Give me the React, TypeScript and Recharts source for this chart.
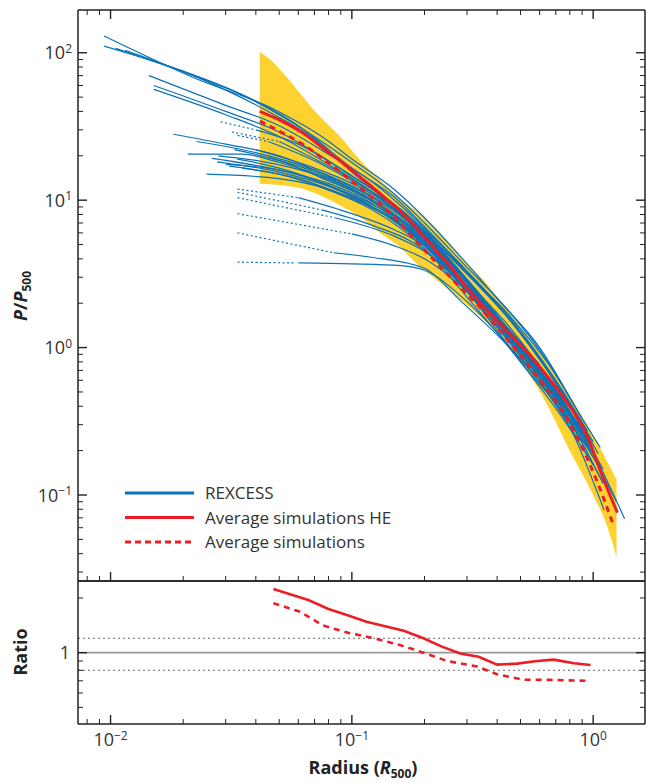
import React from 'react';
import { ComposedChart, Line, Area, XAxis, YAxis, ReferenceLine, Legend } from 'recharts';

type Pt = [number, number];

// axis ticks (log scales, minor ticks included)
const xTicks = [0.008, 0.009, 0.01, 0.02, 0.03, 0.04, 0.05, 0.06, 0.07, 0.08, 0.09, 0.1, 0.2, 0.3, 0.4, 0.5, 0.6, 0.7, 0.8, 0.9, 1];
const pTicks = [0.03, 0.04, 0.05, 0.06, 0.07, 0.08, 0.09, 0.1, 0.2, 0.3, 0.4, 0.5, 0.6, 0.7, 0.8, 0.9, 1, 2, 3, 4, 5, 6, 7, 8, 9, 10, 20, 30, 40, 50, 60, 70, 80, 90, 100];
const ratioTicks = [0.5, 0.6, 0.7, 0.8, 0.9, 1, 2];

// simulation dispersion band
const bandR = [0.0415, 0.0458, 0.052, 0.061, 0.0716, 0.0894, 0.108, 0.131, 0.154, 0.186, 0.232, 0.273, 0.351, 0.44, 0.5, 0.62, 0.8, 1.0, 1.14, 1.25];
const bandLo = [12.9, 12.8, 12.6, 12.1, 11.0, 9.2, 7.7, 6.0, 5.0, 3.7, 2.75, 2.2, 1.55, 1.05, 0.8, 0.46, 0.2, 0.1, 0.062, 0.038];
const bandHi = [101, 90, 72.5, 53, 38.8, 27, 18.7, 13.7, 10.6, 8.4, 6.0, 4.36, 2.88, 1.8, 1.38, 0.87, 0.47, 0.255, 0.17, 0.127];

// average simulated profiles
const simHE: Pt[] = [[0.0415, 40], [0.052, 34], [0.063, 28.4], [0.076, 22.5], [0.092, 17.8], [0.112, 13.7], [0.135, 10.6], [0.164, 8.0], [0.2, 5.6], [0.25, 3.7], [0.3, 2.55], [0.385, 1.62], [0.533, 0.93], [0.731, 0.49], [0.946, 0.25], [1.1, 0.13], [1.26, 0.076]];
const simAll: Pt[] = [[0.0416, 34.4], [0.052, 28.4], [0.063, 23.8], [0.079, 18.2], [0.098, 13.8], [0.115, 11.2], [0.144, 8.2], [0.186, 5.2], [0.256, 3.0], [0.352, 1.75], [0.454, 1.07], [0.624, 0.56], [0.805, 0.3], [1.006, 0.14], [1.22, 0.061]];

// ratio panel
const ratioHE: Pt[] = [[0.0473, 2.24], [0.066, 1.95], [0.08, 1.74], [0.0953, 1.61], [0.115, 1.48], [0.14, 1.39], [0.164, 1.32], [0.198, 1.2], [0.236, 1.08], [0.281, 0.99], [0.335, 0.95], [0.4, 0.86], [0.484, 0.87], [0.586, 0.9], [0.687, 0.915], [0.832, 0.875], [0.975, 0.856]];
const ratioAll: Pt[] = [[0.0473, 1.87], [0.061, 1.68], [0.076, 1.41], [0.098, 1.28], [0.127, 1.19], [0.159, 1.1], [0.198, 1.0], [0.248, 0.9], [0.33, 0.84], [0.4, 0.76], [0.515, 0.71], [0.666, 0.708], [0.929, 0.7]];

// REXCESS cluster profiles
const rexA1: Pt[] = [[0.0094, 130], [0.022, 68], [0.048, 41], [0.075, 27], [0.1, 19], [0.15, 11.8], [0.2, 7.6], [0.3, 3.7], [0.4, 2.15], [0.6, 1.0], [0.84, 0.4]];
const rexA2: Pt[] = [[0.0094, 111], [0.02, 75], [0.035, 52], [0.05, 38], [0.075, 25], [0.1, 18], [0.15, 11], [0.2, 7.0], [0.3, 3.5], [0.45, 1.75], [0.65, 0.8], [0.9, 0.33], [1.07, 0.21]];
const rexA3: Pt[] = [[0.0105, 107], [0.022, 70], [0.04, 47], [0.06, 32], [0.1, 16.5], [0.15, 10.5], [0.2, 6.6], [0.3, 3.2], [0.45, 1.55], [0.7, 0.58], [1.0, 0.23]];
const rexA4: Pt[] = [[0.0115, 104], [0.025, 64], [0.045, 40], [0.07, 26], [0.1, 15.5], [0.2, 6.2], [0.3, 2.9], [0.5, 1.05], [0.8, 0.36], [1.1, 0.15]];
const rexA5: Pt[] = [[0.0144, 70], [0.03, 44], [0.05, 32], [0.08, 20.5], [0.12, 13.5], [0.2, 6.5], [0.3, 3.3], [0.5, 1.25], [0.8, 0.4], [1.35, 0.069]];
const rexA6: Pt[] = [[0.0151, 60], [0.03, 40], [0.05, 29], [0.08, 18.5], [0.12, 12], [0.2, 6.0], [0.3, 2.8], [0.5, 1.0], [0.75, 0.42], [1.0, 0.2]];
const rexA7: Pt[] = [[0.0151, 56.5], [0.03, 38], [0.05, 27], [0.08, 17.5], [0.12, 11.5], [0.2, 5.6], [0.35, 2.1], [0.55, 0.85], [0.9, 0.26]];
const rexB1: Pt[] = [[0.0182, 28], [0.03, 24], [0.05, 20], [0.08, 14.5], [0.12, 10.5], [0.2, 5.8], [0.3, 2.75], [0.5, 0.98], [0.8, 0.34], [1.0, 0.19]];
const rexB2: Pt[] = [[0.0227, 25], [0.04, 21], [0.07, 16], [0.1, 12.5], [0.15, 8.6], [0.2, 6.0], [0.3, 3.15], [0.45, 1.55], [0.7, 0.6], [0.95, 0.27]];
const rexB3: Pt[] = [[0.0209, 20.5], [0.035, 20.5], [0.05, 18], [0.08, 14], [0.12, 10], [0.2, 5.2], [0.3, 2.55], [0.5, 0.92], [0.8, 0.32], [1.1, 0.12]];
const rexB4: Pt[] = [[0.0263, 19.2], [0.05, 16], [0.08, 13], [0.12, 9.6], [0.2, 5.0], [0.3, 2.45], [0.5, 0.9], [0.7, 0.45]];
const rexB5: Pt[] = [[0.0276, 18.2], [0.05, 15.5], [0.08, 12.4], [0.12, 9.1], [0.2, 4.9], [0.3, 2.4], [0.45, 1.12], [0.65, 0.52], [0.95, 0.22]];
const rexB6: Pt[] = [[0.04, 30], [0.06, 24], [0.1, 14.5], [0.15, 9.4], [0.2, 6.3], [0.3, 3.3], [0.5, 1.3], [0.75, 0.5], [1.05, 0.19]];
const rexB7: Pt[] = [[0.05, 25], [0.08, 17], [0.12, 11.5], [0.2, 5.8], [0.3, 2.9], [0.5, 1.02], [0.85, 0.3]];
const rexB8: Pt[] = [[0.0326, 22], [0.05, 18.5], [0.08, 13.5], [0.12, 10], [0.2, 5.4], [0.3, 2.65], [0.5, 0.95], [0.65, 0.6]];
const rexB9: Pt[] = [[0.028, 20], [0.045, 18], [0.07, 15], [0.1, 11.6], [0.15, 7.9], [0.2, 5.5], [0.3, 2.75], [0.5, 1.02], [0.9, 0.28]];
const rexB10: Pt[] = [[0.0335, 19], [0.05, 16.5], [0.08, 12.6], [0.12, 9.2], [0.2, 4.9], [0.3, 2.4], [0.5, 0.8], [0.8, 0.29], [1.11, 0.079]];
const rexB11: Pt[] = [[0.031, 17], [0.05, 15], [0.08, 11.7], [0.12, 8.7], [0.2, 4.7], [0.3, 2.2], [0.5, 0.8], [0.75, 0.33], [1.0, 0.16]];
const rexB12: Pt[] = [[0.035, 16.5], [0.06, 14], [0.1, 10.2], [0.15, 7.3], [0.2, 5.1], [0.3, 2.55], [0.45, 1.25], [0.7, 0.5], [0.95, 0.24]];
const rexB13: Pt[] = [[0.03, 17.5], [0.05, 16], [0.09, 11.7], [0.15, 7.7], [0.2, 5.3], [0.3, 2.65], [0.45, 1.3], [0.6, 0.77]];
const rexB14: Pt[] = [[0.045, 25], [0.07, 18.5], [0.1, 13.5], [0.15, 9.1], [0.2, 6.1], [0.3, 3.2], [0.45, 1.65], [0.65, 0.78], [0.9, 0.33]];
const rexB15: Pt[] = [[0.04, 22], [0.07, 16.5], [0.1, 13], [0.15, 8.8], [0.2, 5.9], [0.3, 2.9], [0.5, 1.05], [0.7, 0.52], [1.0, 0.2]];
const rexB16: Pt[] = [[0.045, 19.5], [0.07, 15.6], [0.1, 12], [0.15, 8.1], [0.2, 5.6], [0.3, 2.8], [0.45, 1.38], [0.75, 0.42], [1.25, 0.09]];
const rexB17: Pt[] = [[0.025, 15], [0.05, 14], [0.1, 10.4], [0.15, 7.4], [0.2, 5.2], [0.3, 2.6], [0.5, 0.98], [0.8, 0.34]];
const rexC1: Pt[] = [[0.06, 10.4], [0.1, 8.1], [0.15, 6.3], [0.2, 4.9], [0.3, 2.55], [0.5, 0.95], [0.8, 0.32], [1.0, 0.18]];
const rexC2: Pt[] = [[0.075, 8.6], [0.12, 6.8], [0.2, 4.6], [0.3, 2.4], [0.45, 1.08], [0.7, 0.42], [0.95, 0.21]];
const rexC3: Pt[] = [[0.085, 7.6], [0.15, 5.7], [0.2, 4.5], [0.3, 2.55], [0.45, 1.32], [0.65, 0.63], [0.9, 0.26]];
const rexC4: Pt[] = [[0.1, 5.9], [0.15, 4.9], [0.2, 4.0], [0.3, 2.4], [0.5, 0.98], [0.75, 0.38], [1.1, 0.12]];
const rexC5: Pt[] = [[0.084, 4.4], [0.12, 4.1], [0.2, 3.45], [0.28, 2.1], [0.45, 1.0], [0.6, 0.58], [0.85, 0.25]];
const rexC6: Pt[] = [[0.06, 3.75], [0.1, 3.7], [0.16, 3.6], [0.2, 3.35], [0.3, 2.05], [0.45, 1.02], [0.65, 0.5], [0.9, 0.23]];

// inner parts below the resolution limit (drawn dotted)
const rexB6in: Pt[] = [[0.0286, 34], [0.04, 30]];
const rexB7in: Pt[] = [[0.0318, 29], [0.05, 25]];
const rexB14in: Pt[] = [[0.0336, 27.5], [0.045, 25]];
const rexC1in: Pt[] = [[0.0336, 11.9], [0.06, 10.4]];
const rexC2in: Pt[] = [[0.0336, 11.3], [0.075, 8.6]];
const rexC3in: Pt[] = [[0.0336, 10.4], [0.085, 7.6]];
const rexC4in: Pt[] = [[0.0336, 8.1], [0.1, 5.9]];
const rexC5in: Pt[] = [[0.0336, 6.0], [0.084, 4.4]];
const rexC6in: Pt[] = [[0.0336, 3.8], [0.058, 3.75]];

const rexSolid = [rexA1, rexA2, rexA3, rexA4, rexA5, rexA6, rexA7, rexB1, rexB2, rexB3, rexB4, rexB5, rexB6, rexB7, rexB8, rexB9, rexB10, rexB11, rexB12, rexB13, rexB14, rexB15, rexB16, rexB17, rexC1, rexC2, rexC3, rexC4, rexC5, rexC6];
const rexDotted = [rexB6in, rexB7in, rexB14in, rexC1in, rexC2in, rexC3in, rexC4in, rexC5in, rexC6in];

const BLUE = '#0b72b8';
const RED = '#ee1d25';
const YELLOW = '#fdd130';
const INK = '#222';
const TEXT = '#333';
const FONT = '"Open Sans", Lato, sans-serif';

const X_DOMAIN: [number, number] = [0.00733, 1.64];
const P_DOMAIN: [number, number] = [0.0261, 195];
const R_DOMAIN: [number, number] = [0.405, 2.48];

const rows = (pts: Pt[]) => pts.map(([x, p]) => ({ x, p }));
const bandRows = bandR.map((x, i) => ({ x, range: [bandLo[i], bandHi[i]] }));

const isPow10 = (v: number) => Math.abs(Math.log10(v) - Math.round(Math.log10(v))) < 1e-9;
const expText = (v: number) => {
  const e = Math.round(Math.log10(v));
  return e < 0 ? `\u2212${-e}` : `${e}`;
};

type Side = 'left' | 'right' | 'top' | 'bottom';

// ticks drawn inward, labels only on the powers of ten
const makeTick = (side: Side, label: 'pow' | 'one' | null, major: (v: number) => boolean = isPow10) =>
  (props: any) => {
    const { x, y, payload } = props;
    const v = payload.value as number;
    const mj = major(v);
    const len = mj ? 9 : 5;
    let x2 = x;
    let y2 = y;
    if (side === 'left') x2 = x + len;
    else if (side === 'right') x2 = x - len;
    else if (side === 'top') y2 = y + len;
    else y2 = y - len;
    let text = null;
    if (label === 'pow' && isPow10(v)) {
      if (side === 'left') {
        text = (
          <text x={x - 6} y={y + 6.5} textAnchor="end" fontSize={18} fill={TEXT} fontFamily={FONT}>
            10<tspan dy={-6.5} fontSize={12}>{expText(v)}</tspan>
          </text>
        );
      } else if (side === 'bottom') {
        text = (
          <text x={x} y={y + 22} textAnchor="middle" fontSize={18} fill={TEXT} fontFamily={FONT}>
            10<tspan dy={-6} fontSize={12}>{expText(v)}</tspan>
          </text>
        );
      }
    }
    if (label === 'one' && v === 1) {
      text = (
        <text x={x - 8} y={y + 6.5} textAnchor="end" fontSize={18} fill={TEXT} fontFamily={FONT}>1</text>
      );
    }
    return (
      <g>
        <line x1={x} y1={y} x2={x2} y2={y2} stroke={INK} strokeWidth={mj ? 1.4 : 1} />
        {text}
      </g>
    );
  };

const AXIS_LINE = { stroke: INK, strokeWidth: 1.5 };
const noTick = () => <g />;

const LegendBox = () => (
  <svg width={320} height={80} style={{ display: 'block' }}>
    <line x1={5} x2={74} y1={13} y2={13} stroke={BLUE} strokeWidth={3} />
    <line x1={5} x2={74} y1={37.5} y2={37.5} stroke={RED} strokeWidth={3} />
    <line x1={5} x2={74} y1={62} y2={62} stroke={RED} strokeWidth={3} strokeDasharray="6 4" />
    <text x={85} y={19} fontSize={17} fill={TEXT} fontFamily={FONT}>REXCESS</text>
    <text x={85} y={43.5} fontSize={17} fill={TEXT} fontFamily={FONT}>Average simulations HE</text>
    <text x={85} y={68} fontSize={17} fill={TEXT} fontFamily={FONT}>Average simulations</text>
  </svg>
);

const PressureTitle = () => (
  <text transform="translate(27, 296) rotate(-90)" textAnchor="middle" fontSize={18} fontWeight={700} fill={INK} fontFamily={FONT}>
    <tspan fontStyle="italic">P</tspan>/<tspan fontStyle="italic">P</tspan>
    <tspan fontSize={12} dy={4}>500</tspan>
  </text>
);

const RatioTitle = () => (
  <text transform="translate(27, 82) rotate(-90)" textAnchor="middle" fontSize={18} fontWeight={700} fill={INK} fontFamily={FONT}>
    Ratio
  </text>
);

const RadiusTitle = () => (
  <text x={363} y={204} textAnchor="middle" fontSize={18} fontWeight={700} fill={INK} fontFamily={FONT}>
    Radius (<tspan fontStyle="italic">R</tspan>
    <tspan fontSize={12} dy={4}>500</tspan>
    <tspan dy={-4}>)</tspan>
  </text>
);

function ProfilePanel() {
  return (
    <ComposedChart width={646} height={585} margin={{ top: 5, right: 0, bottom: 2, left: 38 }}>
      <XAxis dataKey="x" type="number" scale="log" domain={X_DOMAIN} allowDataOverflow ticks={xTicks} interval={0}
        height={2} tickLine={false} tickSize={0} tickMargin={0} axisLine={AXIS_LINE} tick={makeTick('bottom', null)} />
      <XAxis xAxisId="t" orientation="top" dataKey="x" type="number" scale="log" domain={X_DOMAIN} allowDataOverflow ticks={xTicks} interval={0}
        height={5} tickLine={false} tickSize={0} tickMargin={0} axisLine={AXIS_LINE} tick={makeTick('top', null)} />
      <YAxis dataKey="p" type="number" scale="log" domain={P_DOMAIN} allowDataOverflow ticks={pTicks} interval={0}
        width={40} tickLine={false} tickSize={0} tickMargin={0} axisLine={AXIS_LINE} tick={makeTick('left', 'pow')}
        label={{ content: () => <PressureTitle /> }} />
      <YAxis yAxisId="r" orientation="right" type="number" scale="log" domain={P_DOMAIN} allowDataOverflow ticks={pTicks} interval={0}
        width={1} tickLine={false} tickSize={0} tickMargin={0} axisLine={AXIS_LINE} tick={makeTick('right', null)} />
      <Area data={bandRows} dataKey="range" type="monotone" fill={YELLOW} fillOpacity={1} stroke="none"
        isAnimationActive={false} legendType="none" />
      {rexDotted.map((pts, i) => (
        <Line key={`d${i}`} data={rows(pts)} dataKey="p" type="linear" stroke={BLUE} strokeWidth={1.2} strokeDasharray="2 2.5"
          dot={false} activeDot={false} isAnimationActive={false} legendType="none" />
      ))}
      {rexSolid.map((pts, i) => (
        <Line key={`s${i}`} data={rows(pts)} dataKey="p" type="monotone" stroke={BLUE} strokeWidth={1.2}
          dot={false} activeDot={false} isAnimationActive={false} legendType="none" />
      ))}
      <Line data={rows(simHE)} dataKey="p" type="monotone" stroke={RED} strokeWidth={3}
        dot={false} activeDot={false} isAnimationActive={false} legendType="none" />
      <Line data={rows(simAll)} dataKey="p" type="monotone" stroke={RED} strokeWidth={3} strokeDasharray="6 5"
        dot={false} activeDot={false} isAnimationActive={false} legendType="none" />
      <Legend layout="vertical" align="center" verticalAlign="middle"
        wrapperStyle={{ left: 120, top: 480, width: 320, height: 80 }} content={() => <LegendBox />} />
    </ComposedChart>
  );
}

function RatioPanel() {
  return (
    <ComposedChart width={646} height={213} margin={{ top: 6, right: 0, bottom: 29, left: 38 }}>
      <XAxis dataKey="x" type="number" scale="log" domain={X_DOMAIN} allowDataOverflow ticks={xTicks} interval={0}
        height={30} tickLine={false} tickSize={0} tickMargin={0} axisLine={AXIS_LINE} tick={makeTick('bottom', 'pow')}
        label={{ content: () => <RadiusTitle /> }} />
      <XAxis xAxisId="t" orientation="top" dataKey="x" type="number" scale="log" domain={X_DOMAIN} allowDataOverflow ticks={xTicks} interval={0}
        height={5} tickLine={false} tickSize={0} tickMargin={0} axisLine={AXIS_LINE} tick={noTick} />
      <YAxis dataKey="p" type="number" scale="log" domain={R_DOMAIN} allowDataOverflow ticks={ratioTicks} interval={0}
        width={40} tickLine={false} tickSize={0} tickMargin={0} axisLine={AXIS_LINE}
        tick={makeTick('left', 'one', (v) => v === 1)} label={{ content: () => <RatioTitle /> }} />
      <YAxis yAxisId="r" orientation="right" type="number" scale="log" domain={R_DOMAIN} allowDataOverflow ticks={ratioTicks} interval={0}
        width={1} tickLine={false} tickSize={0} tickMargin={0} axisLine={AXIS_LINE} tick={makeTick('right', null, (v) => v === 1)} />
      <ReferenceLine y={1} stroke="#9a9a9a" strokeWidth={1.6} />
      <ReferenceLine y={1.2} stroke="#666" strokeWidth={1} strokeDasharray="2 3" />
      <ReferenceLine y={0.8} stroke="#666" strokeWidth={1} strokeDasharray="2 3" />
      <Line data={rows(ratioHE)} dataKey="p" type="linear" stroke={RED} strokeWidth={2.6}
        dot={false} activeDot={false} isAnimationActive={false} legendType="none" />
      <Line data={rows(ratioAll)} dataKey="p" type="linear" stroke={RED} strokeWidth={2.6} strokeDasharray="6 5"
        dot={false} activeDot={false} isAnimationActive={false} legendType="none" />
    </ComposedChart>
  );
}

export default function App() {
  return (
    <div style={{ position: 'absolute', left: 0, top: 0, width: 646, height: 783, background: '#fff', fontFamily: FONT }}>
      <div style={{ position: 'absolute', left: 0, top: 0 }}>
        <ProfilePanel />
      </div>
      <div style={{ position: 'absolute', left: 0, top: 570 }}>
        <RatioPanel />
      </div>
    </div>
  );
}
